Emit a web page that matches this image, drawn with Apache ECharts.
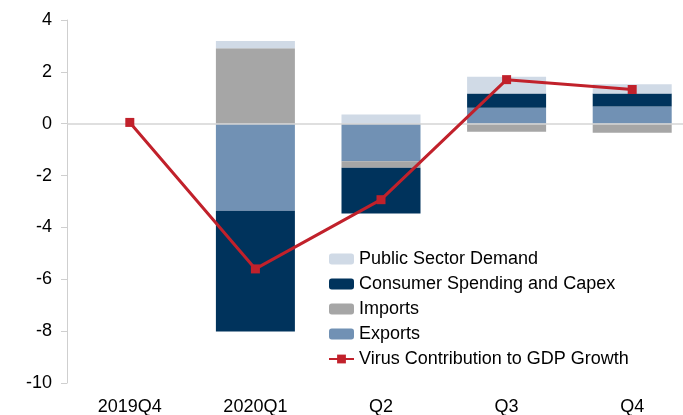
<!doctype html>
<html>
<head>
<meta charset="utf-8">
<title>Virus contribution to GDP growth</title>
<style>
  html, body { margin: 0; padding: 0; background: #fff; }
  #chart { width: 683px; height: 415px; }
</style>
</head>
<body>
<div id="chart"></div>
<script src="https://cdn.jsdelivr.net/npm/echarts@6/dist/echarts.min.js"></script>
<script>
var quarters = ['2019Q4', '2020Q1', 'Q2', 'Q3', 'Q4'];
var exportsVals = [0, -3.36, -1.45, 0.62, 0.66];
var importsVals = [0, 2.91, -0.25, -0.31, -0.35];
var consumerVals = [0, -4.65, -1.76, 0.55, 0.51];
var publicVals = [0, 0.28, 0.36, 0.64, 0.35];
var virusVals = [0.05, -5.6, -2.93, 1.7, 1.32];

var font = 'Liberation Sans, Arial, sans-serif';

function barSeries(name, data, color) {
    return {
        name: name,
        type: 'bar',
        stack: 'gdp',
        barWidth: 79,
        data: data,
        itemStyle: { color: color },
        emphasis: { disabled: true }
    };
}

var chart = echarts.init(document.getElementById('chart'));
chart.setOption({
    animation: false,
    textStyle: { fontFamily: font },
    // plot runs past the right edge, like the cropped original
    grid: { left: 67, width: 628, top: 20, bottom: 32, outerBoundsMode: 'none', containLabel: false },
    legend: {
        orient: 'vertical',
        left: 323,
        top: 245,
        itemWidth: 25,
        itemHeight: 11,
        itemGap: 7,
        textStyle: { fontSize: 18, color: '#000', fontFamily: font },
        data: ['Public Sector Demand', 'Consumer Spending and Capex', 'Imports', 'Exports', 'Virus Contribution to GDP Growth']
    },
    xAxis: {
        type: 'category',
        data: quarters,
        axisLine: { show: false, onZero: false },
        axisTick: { show: false },
        axisLabel: { fontSize: 18, color: '#000', margin: 15 }
    },
    yAxis: {
        type: 'value',
        min: -10,
        max: 4,
        interval: 2,
        splitLine: { show: false },
        axisLine: { show: true, lineStyle: { color: '#cfcfcf', width: 1 } },
        axisTick: { show: true, length: 6, lineStyle: { color: '#cfcfcf' } },
        axisLabel: { fontSize: 18, color: '#000', margin: 15 }
    },
    series: [
        barSeries('Exports', exportsVals, '#7191b4'),
        barSeries('Imports', importsVals, '#a6a6a6'),
        barSeries('Consumer Spending and Capex', consumerVals, '#00335c'),
        barSeries('Public Sector Demand', publicVals, '#d0dae6'),
        {
            name: 'Virus Contribution to GDP Growth',
            type: 'line',
            data: virusVals,
            symbol: 'rect',
            symbolSize: 9,
            lineStyle: { color: '#c1212b', width: 3 },
            itemStyle: { color: '#c1212b' },
            z: 5,
            markLine: {
                silent: true,
                symbol: 'none',
                label: { show: false },
                lineStyle: { color: '#d4d4d4', type: 'solid', width: 1.5 },
                data: [{ yAxis: 0 }]
            }
        }
    ]
});
</script>
</body>
</html>
